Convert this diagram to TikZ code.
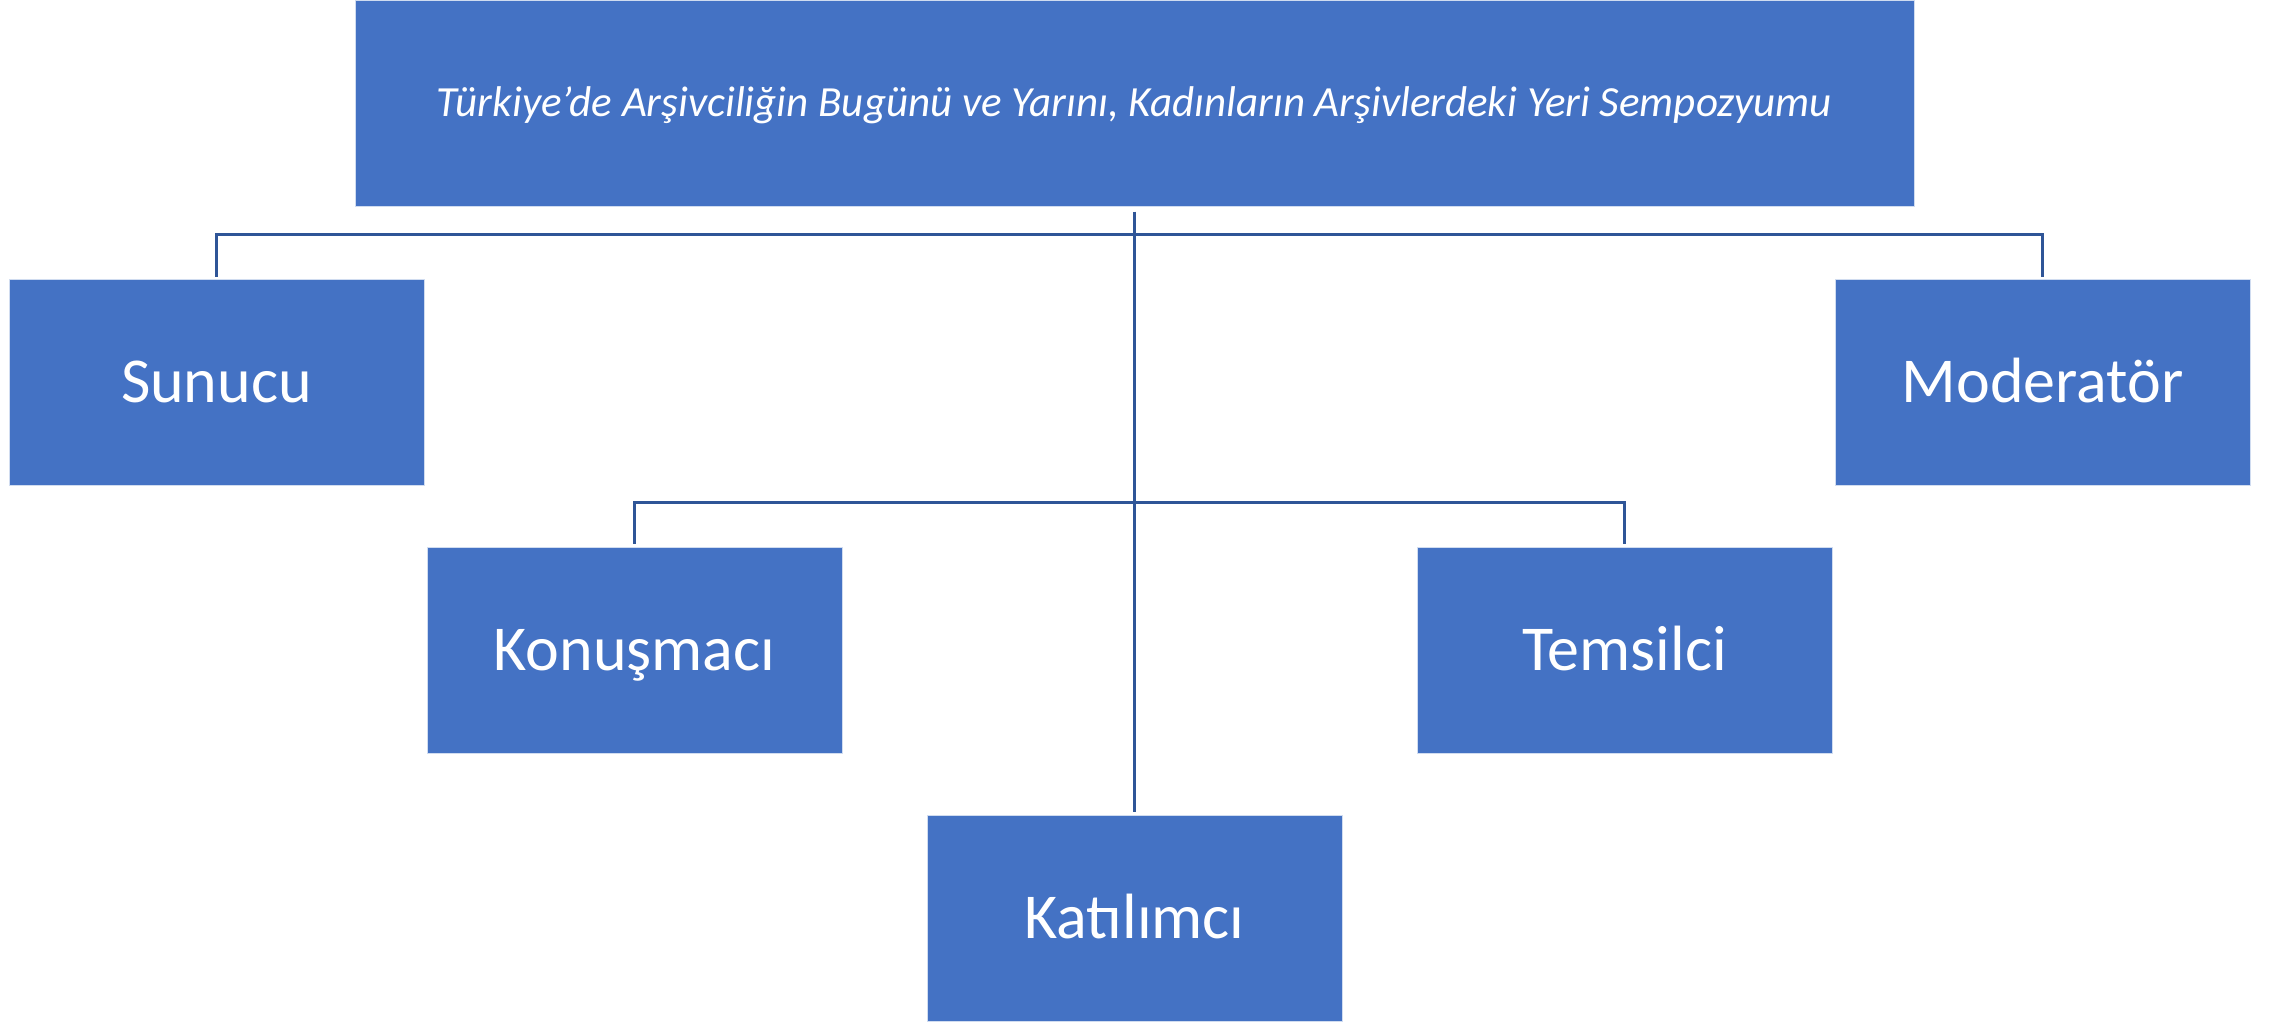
\documentclass[tikz,border=0pt]{standalone}
\usepackage{fontspec}
\setmainfont{Carlito}
\definecolor{boxblue}{HTML}{4472C4}
\definecolor{lineblue}{HTML}{2F5597}
\begin{document}
\begin{tikzpicture}[x=1pt,y=-1pt,
  box/.style={fill=boxblue,draw=white!75!boxblue,line width=1pt,inner sep=0pt,
    minimum width=415pt,minimum height=206pt,text=white,
    font=\fontsize{64}{72}\selectfont,text height=40pt,text depth=0pt},
  conn/.style={draw=lineblue,line width=3pt}]
\useasboundingbox (0,0) rectangle (2277,1021);
\fill[white] (0,0) rectangle (2277,1021);
\node[box,minimum width=1559pt,minimum height=206pt,text height=27pt,
  font=\fontsize{43}{50}\selectfont\itshape] (top) at (1134.5,103)
  {Türkiye’de Arşivciliğin Bugünü ve Yarını, Kadınların Arşivlerdeki Yeri Sempozyumu};
\node[box] (sun) at (216.5,382) {Sunucu};
\node[box] (mod) at (2042.5,382) {Moderatör};
\node[box] (kon) at (634.5,650) {Konuşmacı};
\node[box] (tem) at (1624.5,650) {Temsilci};
\node[box] (kat) at (1134.5,918) {Katılımcı};
\coordinate (h1) at (1134.5,234);
\coordinate (h2) at (1134.5,502);
\draw[conn] ([yshift=-5pt]top.south) -- ([yshift=3pt]kat.north);
\draw[conn] ([yshift=2pt]sun.north) -- (sun.north |- h1) -- (mod.north |- h1) -- ([yshift=2pt]mod.north);
\draw[conn] ([yshift=3pt]kon.north) -- (kon.north |- h2) -- (tem.north |- h2) -- ([yshift=3pt]tem.north);
\end{tikzpicture}
\end{document}
